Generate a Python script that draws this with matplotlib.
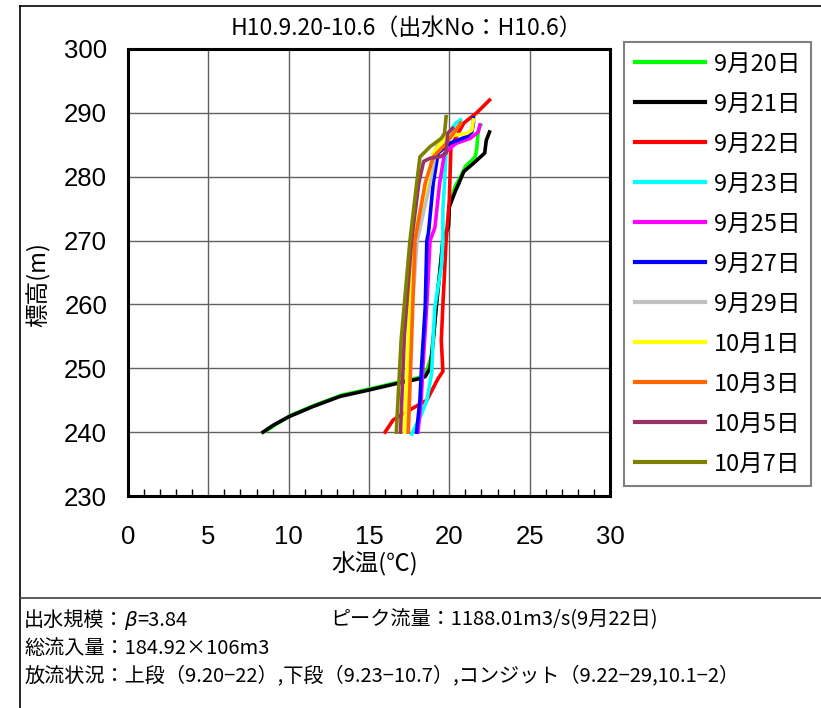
import numpy as np
import matplotlib.pyplot as plt
from matplotlib.lines import Line2D
from matplotlib.ticker import MultipleLocator

plt.rcParams['font.family'] = ['Noto Sans CJK JP', 'DejaVu Sans']

labels = ["9月20日", "9月21日", "9月22日", "9月23日", "9月25日", "9月27日",
          "9月29日", "10月1日", "10月3日", "10月5日", "10月7日"]
colors = ["#00FF00", "#000000", "#FF0000", "#00FFFF", "#FF00FF", "#0000FF",
          "#C0C0C0", "#FFFF00", "#FF6600", "#993366", "#808000"]

# water temperature (C) and elevation (m) for each survey day
t_0920 = [8.6, 9.2, 10.1, 11.6, 13.3, 15.1, 16.8, 18.2, 18.6, 18.9, 19.0, 19.2, 19.4, 19.6,
          19.9, 20.0, 20.35, 20.7, 21.0, 21.6, 21.7, 21.8, 21.95]
z_0920 = [240.2, 241.2, 242.6, 244.2, 245.8, 246.8, 247.8, 248.6, 249.7, 252, 255, 260, 265, 270,
          272.2, 275.3, 278.4, 280, 281.6, 283.1, 284.2, 287.3, 288.1]
t_0921 = [8.4, 9.05, 10.0, 11.5, 13.2, 15.0, 16.7, 18.2, 18.5, 18.8, 19.0, 19.2, 19.4, 19.6,
          19.95, 20.0, 20.4, 20.6, 20.9, 21.5, 22.2, 22.3, 22.5]
z_0921 = [240, 241.1, 242.4, 244, 245.6, 246.6, 247.6, 248.4, 248.7, 250, 254.4, 260, 264.9, 270,
          272.2, 275.3, 277.9, 279, 280.8, 282.1, 283.7, 285.7, 287]
t_0922 = [16.0, 16.5, 17.55, 18.6, 19.3, 19.6, 19.5, 19.6, 19.7, 19.8, 20.0, 20.1, 20.9, 21.7, 22.3, 22.5]
z_0922 = [240, 241.9, 243.5, 245, 248.4, 249.5, 254.4, 260, 264.9, 270, 276.4, 284.7, 288.4, 290, 291.5, 292]
t_0923 = [17.65, 18.2, 18.6, 18.9, 19.0, 19.1, 19.5, 19.6, 19.6, 19.7, 19.8, 20.0, 20.4, 20.7]
z_0923 = [239.7, 242.4, 245, 249.2, 255, 259.6, 265.9, 270, 275, 279, 284.2, 286.8, 288.4, 288.9]
t_0925 = [18.05, 18.25, 18.35, 18.6, 18.7, 18.8, 19.1, 19.4, 19.7, 20.4, 21.3, 21.8, 21.9]
z_0925 = [240, 245, 250, 260, 264.9, 270, 272, 279, 283.7, 285.2, 286, 287, 288.1]
t_0927 = [17.96, 18.17, 18.27, 18.5, 18.6, 18.7, 19.0, 19.3, 20.0, 21.1, 21.4, 21.5, 21.5]
z_0927 = [240, 245, 250.2, 259.6, 270, 271.2, 279, 283.7, 285.2, 286.3, 287, 288.4, 289.2]
t_0929 = [17.3, 17.5, 17.7, 18.0, 18.8, 19.2, 20.0, 20.2]
z_0929 = [240, 250, 260, 270, 279, 284.7, 286.5, 287.2]
t_1001 = [17.2, 17.45, 17.75, 18.6, 19.0, 19.8, 21.1, 21.4, 21.5]
z_1001 = [240, 254.4, 270, 279, 283.7, 286.3, 286.8, 287.3, 288.9]
t_1003 = [17.45, 17.65, 17.86, 18.5, 19.0, 19.8, 20.4, 20.7]
z_1003 = [240, 254.4, 270, 279, 283.1, 285.2, 287.3, 288.4]
t_1005 = [16.96, 17.2, 17.65, 18.1, 18.4, 18.8, 19.4, 19.8, 19.9, 20.2]
z_1005 = [240, 255, 270, 279, 282.4, 282.9, 283.1, 283.7, 286.8, 287.6]
t_1007 = [16.7, 17.0, 17.55, 17.97, 18.17, 18.8, 19.5, 19.7, 19.8]
z_1007 = [240, 254.4, 270, 279, 283.1, 284.7, 286, 286.8, 289.4]

temps = [t_0920, t_0921, t_0922, t_0923, t_0925, t_0927, t_0929, t_1001, t_1003, t_1005, t_1007]
elevs = [z_0920, z_0921, z_0922, z_0923, z_0925, z_0927, z_0929, z_1001, z_1003, z_1005, z_1007]

W, H = 821, 708
fig = plt.figure(figsize=(W / 100, H / 100), dpi=100, facecolor="w")
ax = fig.add_axes([128 / W, 1 - 496 / H, (610 - 128) / W, (496 - 49) / H])

for t, z, c, lab in zip(temps, elevs, colors, labels):
    ax.plot(t, z, color=c, lw=2.6, label=lab)

ax.set_xlim(0, 30)
ax.set_ylim(230, 300)
ax.xaxis.set_major_locator(MultipleLocator(5))
ax.yaxis.set_major_locator(MultipleLocator(10))
ax.xaxis.set_minor_locator(MultipleLocator(1))
ax.grid(which="major", color="#606060", lw=1.0)
ax.tick_params(which="major", length=0, labelsize=18.5, pad=15)
ax.tick_params(axis="x", which="major", pad=21)
ax.tick_params(axis="x", which="minor", direction="in", length=5, width=1, bottom=True)
ax.tick_params(axis="y", which="minor", length=0)
for lb in ax.get_xticklabels() + ax.get_yticklabels():
    lb.set_family("Liberation Sans")
for s in ax.spines.values():
    s.set_linewidth(2.2)

fig.text(331 / W, 1 - 564 / H, "水温(℃)", fontsize=17, ha="left", va="center")
fig.text(38 / W, 1 - 285 / H, "標高(m)", fontsize=17, ha="center", va="center",
         rotation=90)

fig.text(406 / W, 1 - 28 / H, "H10.9.20-10.6（出水No：H10.6）", fontsize=16.5,
         ha="center", va="center")

leg = fig.legend(loc="upper left", bbox_to_anchor=(624 / W, 1 - 42 / H),
                 fontsize=17, handlelength=3.0, handletextpad=0.35,
                 labelspacing=0.72, borderpad=0.45, borderaxespad=0,
                 fancybox=False, edgecolor="#808080", framealpha=1)
leg.get_frame().set_linewidth(1.5)
for ln in leg.get_lines():
    ln.set_linewidth(3)

# frame lines around the sheet
fig.add_artist(Line2D([20 / W, 20 / W], [0, 1 - 6 / H], color="k", lw=1.2))
fig.add_artist(Line2D([20 / W, 1], [1 - 6 / H, 1 - 6 / H], color="k", lw=1.2))
fig.add_artist(Line2D([20 / W, 1], [1 - 598 / H, 1 - 598 / H], color="#404040", lw=1.2))

fs = 14.5
fig.text(24 / W, 1 - 620 / H, "出水規模：", fontsize=fs, va="center")
fig.text(124 / W, 1 - 620 / H, "β", fontsize=fs, va="center", style="italic",
         family="DejaVu Sans")
fig.text(137 / W, 1 - 620 / H, "=3.84", fontsize=fs, va="center")
fig.text(330 / W, 1 - 620 / H, "ピーク流量：1188.01m3/s(9月22日)", fontsize=fs, va="center")
fig.text(24 / W, 1 - 648 / H, "総流入量：184.92×106m3", fontsize=fs, va="center")
fig.text(24 / W, 1 - 676 / H, "放流状況：上段（9.20−22）,下段（9.23−10.7）,コンジット（9.22−29,10.1−2）",
         fontsize=fs, va="center")

fig.savefig("out.png", dpi=100)
